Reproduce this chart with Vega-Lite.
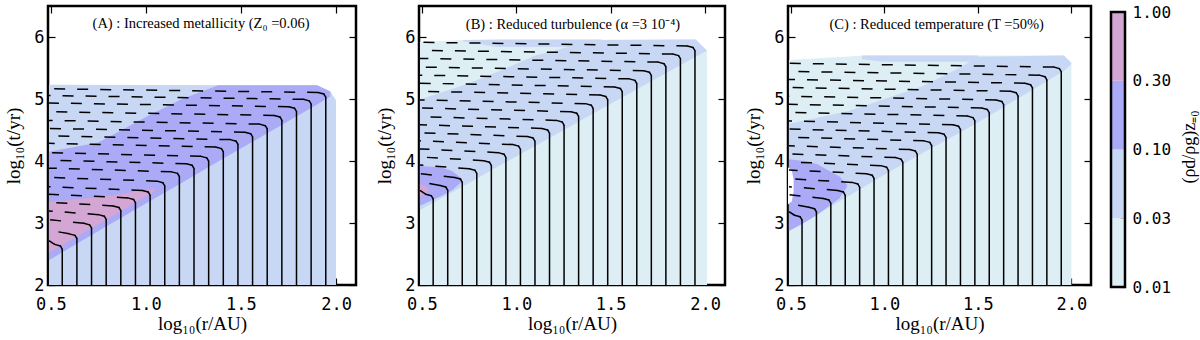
{
  "$schema": "https://vega.github.io/schema/vega-lite/v6.json",
  "background": "white",
  "padding": {"left": 3, "top": 4, "right": 2, "bottom": 0},
  "spacing": 16,
  "datasets": {
    "reg": [
      {"r":"A1","b":"b2","x":0.49,"lo":2,"hi":5.23},{"r":"A1","b":"b2","x":1.9,"lo":2,"hi":5.22},{"r":"A1","b":"b2","x":1.97,"lo":2,"hi":5.12},{"r":"A1","b":"b2","x":2.0,"lo":2,"hi":4.98},
      {"r":"A2","b":"b3","x":0.49,"lo":2.4,"hi":4.15},{"r":"A2","b":"b3","x":0.75,"lo":2.87,"hi":4.3},{"r":"A2","b":"b3","x":1.02,"lo":3.35,"hi":4.74},{"r":"A2","b":"b3","x":1.19,"lo":3.65,"hi":5.0},{"r":"A2","b":"b3","x":1.38,"lo":3.99,"hi":5.22},{"r":"A2","b":"b3","x":1.9,"lo":4.91,"hi":5.22},{"r":"A2","b":"b3","x":1.97,"lo":5.04,"hi":5.12},
      {"r":"A3","b":"b4","x":0.49,"lo":2.52,"hi":3.34},{"r":"A3","b":"b4","x":0.8,"lo":3.07,"hi":3.43},{"r":"A3","b":"b4","x":1.05,"lo":3.52,"hi":3.56},
      {"r":"B1","b":"b1","x":0.49,"lo":2,"hi":5.92},{"r":"B1","b":"b1","x":0.72,"lo":2,"hi":5.95},{"r":"B1","b":"b1","x":1.95,"lo":2,"hi":5.96},{"r":"B1","b":"b1","x":2.01,"lo":2,"hi":5.78},
      {"r":"B2","b":"b2","x":0.49,"lo":3.21,"hi":4.99},{"r":"B2","b":"b2","x":0.74,"lo":3.63,"hi":5.24},{"r":"B2","b":"b2","x":0.95,"lo":3.99,"hi":5.5},{"r":"B2","b":"b2","x":1.1,"lo":4.24,"hi":5.7},{"r":"B2","b":"b2","x":1.3,"lo":4.58,"hi":5.86},{"r":"B2","b":"b2","x":1.45,"lo":4.84,"hi":5.95},{"r":"B2","b":"b2","x":1.95,"lo":5.68,"hi":5.96},{"r":"B2","b":"b2","x":2.01,"lo":5.78,"hi":5.78},
      {"r":"B3","b":"b2","x":0.72,"lo":5.93,"hi":5.95},{"r":"B3","b":"b2","x":0.9,"lo":5.84,"hi":5.96},{"r":"B3","b":"b2","x":1.45,"lo":5.84,"hi":5.96},
      {"r":"B4","b":"b3","x":0.49,"lo":3.28,"hi":3.92},{"r":"B4","b":"b3","x":0.6,"lo":3.43,"hi":3.9},{"r":"B4","b":"b3","x":0.66,"lo":3.53,"hi":3.84},{"r":"B4","b":"b3","x":0.71,"lo":3.66,"hi":3.72},
      {"r":"B5","b":"b4","x":0.49,"lo":3.42,"hi":3.64},{"r":"B5","b":"b4","x":0.52,"lo":3.48,"hi":3.6},{"r":"B5","b":"b4","x":0.535,"lo":3.53,"hi":3.55},
      {"r":"C1","b":"b1","x":0.49,"lo":2,"hi":5.63},{"r":"C1","b":"b1","x":0.9,"lo":2,"hi":5.7},{"r":"C1","b":"b1","x":1.96,"lo":2,"hi":5.7},{"r":"C1","b":"b1","x":2.0,"lo":2,"hi":5.58},
      {"r":"C2","b":"b2","x":0.49,"lo":2.88,"hi":4.6},{"r":"C2","b":"b2","x":0.8,"lo":3.42,"hi":4.8},{"r":"C2","b":"b2","x":1.0,"lo":3.78,"hi":5.0},{"r":"C2","b":"b2","x":1.2,"lo":4.12,"hi":5.2},{"r":"C2","b":"b2","x":1.4,"lo":4.45,"hi":5.5},{"r":"C2","b":"b2","x":1.5,"lo":4.62,"hi":5.68},{"r":"C2","b":"b2","x":1.96,"lo":5.45,"hi":5.7},{"r":"C2","b":"b2","x":2.0,"lo":5.56,"hi":5.58},
      {"r":"C3","b":"b2","x":0.88,"lo":5.64,"hi":5.7},{"r":"C3","b":"b2","x":1.0,"lo":5.6,"hi":5.7},{"r":"C3","b":"b2","x":1.5,"lo":5.6,"hi":5.7},
      {"r":"C4","b":"b3","x":0.49,"lo":2.87,"hi":4.03},{"r":"C4","b":"b3","x":0.57,"lo":3.0,"hi":4.0},{"r":"C4","b":"b3","x":0.64,"lo":3.13,"hi":3.95},{"r":"C4","b":"b3","x":0.73,"lo":3.33,"hi":3.8},{"r":"C4","b":"b3","x":0.76,"lo":3.4,"hi":3.75},{"r":"C4","b":"b3","x":0.8,"lo":3.58,"hi":3.62},
      {"r":"C5","b":"w","x":0.485,"lo":3.3,"hi":3.9},{"r":"C5","b":"w","x":0.505,"lo":3.35,"hi":3.85},{"r":"C5","b":"w","x":0.515,"lo":3.5,"hi":3.7}
    ],
    "traj": [
      {"p":"A","x":0.56,"t":2.58,"xm":0.55,"tm":2.63,"xe":0.52,"te":2.655,"tl":2.715},
      {"p":"A","x":0.637,"t":2.75,"xm":0.627,"tm":2.8,"xe":0.597,"te":2.825,"tl":2.885},
      {"p":"A","x":0.714,"t":2.92,"xm":0.704,"tm":2.97,"xe":0.674,"te":2.995,"tl":3.055},
      {"p":"A","x":0.791,"t":3.06,"xm":0.781,"tm":3.11,"xe":0.751,"te":3.135,"tl":3.195},
      {"p":"A","x":0.868,"t":3.2,"xm":0.858,"tm":3.25,"xe":0.828,"te":3.275,"tl":3.335},
      {"p":"A","x":0.945,"t":3.33,"xm":0.935,"tm":3.38,"xe":0.905,"te":3.405,"tl":3.465},
      {"p":"A","x":1.022,"t":3.45,"xm":1.012,"tm":3.5,"xe":0.982,"te":3.525,"tl":3.585},
      {"p":"A","x":1.099,"t":3.6,"xm":1.089,"tm":3.65,"xe":1.059,"te":3.675,"tl":3.735},
      {"p":"A","x":1.176,"t":3.75,"xm":1.166,"tm":3.8,"xe":1.136,"te":3.825,"tl":3.885},
      {"p":"A","x":1.253,"t":3.88,"xm":1.243,"tm":3.93,"xe":1.213,"te":3.955,"tl":4.015},
      {"p":"A","x":1.33,"t":4.0,"xm":1.32,"tm":4.05,"xe":1.29,"te":4.075,"tl":4.135},
      {"p":"A","x":1.407,"t":4.15,"xm":1.397,"tm":4.2,"xe":1.367,"te":4.225,"tl":4.285},
      {"p":"A","x":1.484,"t":4.27,"xm":1.474,"tm":4.32,"xe":1.444,"te":4.345,"tl":4.405},
      {"p":"A","x":1.561,"t":4.39,"xm":1.551,"tm":4.44,"xe":1.521,"te":4.465,"tl":4.525},
      {"p":"A","x":1.638,"t":4.52,"xm":1.628,"tm":4.57,"xe":1.598,"te":4.595,"tl":4.655},
      {"p":"A","x":1.715,"t":4.66,"xm":1.705,"tm":4.71,"xe":1.675,"te":4.735,"tl":4.795},
      {"p":"A","x":1.792,"t":4.8,"xm":1.782,"tm":4.85,"xe":1.752,"te":4.875,"tl":4.935},
      {"p":"A","x":1.869,"t":4.92,"xm":1.859,"tm":4.97,"xe":1.829,"te":4.995,"tl":5.055},
      {"p":"A","x":1.946,"t":5.03,"xm":1.936,"tm":5.08,"xe":1.906,"te":5.105,"tl":5.165},
      {"p":"B","x":0.56,"t":3.39,"xm":0.55,"tm":3.44,"xe":0.52,"te":3.465,"tl":3.525},
      {"p":"B","x":0.637,"t":3.53,"xm":0.627,"tm":3.58,"xe":0.597,"te":3.605,"tl":3.665},
      {"p":"B","x":0.714,"t":3.66,"xm":0.704,"tm":3.71,"xe":0.674,"te":3.735,"tl":3.795},
      {"p":"B","x":0.791,"t":3.8,"xm":0.781,"tm":3.85,"xe":0.751,"te":3.875,"tl":3.935},
      {"p":"B","x":0.868,"t":3.93,"xm":0.858,"tm":3.98,"xe":0.828,"te":4.005,"tl":4.065},
      {"p":"B","x":0.945,"t":4.06,"xm":0.935,"tm":4.11,"xe":0.905,"te":4.135,"tl":4.195},
      {"p":"B","x":1.022,"t":4.19,"xm":1.012,"tm":4.24,"xe":0.982,"te":4.265,"tl":4.325},
      {"p":"B","x":1.099,"t":4.32,"xm":1.089,"tm":4.37,"xe":1.059,"te":4.395,"tl":4.455},
      {"p":"B","x":1.176,"t":4.45,"xm":1.166,"tm":4.5,"xe":1.136,"te":4.525,"tl":4.585},
      {"p":"B","x":1.253,"t":4.58,"xm":1.243,"tm":4.63,"xe":1.213,"te":4.655,"tl":4.715},
      {"p":"B","x":1.33,"t":4.72,"xm":1.32,"tm":4.77,"xe":1.29,"te":4.795,"tl":4.855},
      {"p":"B","x":1.407,"t":4.85,"xm":1.397,"tm":4.9,"xe":1.367,"te":4.925,"tl":4.985},
      {"p":"B","x":1.484,"t":4.99,"xm":1.474,"tm":5.04,"xe":1.444,"te":5.065,"tl":5.125},
      {"p":"B","x":1.561,"t":5.12,"xm":1.551,"tm":5.17,"xe":1.521,"te":5.195,"tl":5.255},
      {"p":"B","x":1.638,"t":5.25,"xm":1.628,"tm":5.3,"xe":1.598,"te":5.325,"tl":5.385},
      {"p":"B","x":1.715,"t":5.38,"xm":1.705,"tm":5.43,"xe":1.675,"te":5.455,"tl":5.515},
      {"p":"B","x":1.792,"t":5.52,"xm":1.782,"tm":5.57,"xe":1.752,"te":5.595,"tl":5.655},
      {"p":"B","x":1.869,"t":5.65,"xm":1.859,"tm":5.7,"xe":1.829,"te":5.725,"tl":5.785},
      {"p":"B","x":1.946,"t":5.78,"xm":1.936,"tm":5.83,"xe":1.906,"te":5.855,"tl":5.915},
      {"p":"C","x":0.56,"t":3.05,"xm":0.55,"tm":3.1,"xe":0.52,"te":3.125,"tl":3.185},
      {"p":"C","x":0.637,"t":3.18,"xm":0.627,"tm":3.23,"xe":0.597,"te":3.255,"tl":3.315},
      {"p":"C","x":0.714,"t":3.32,"xm":0.704,"tm":3.37,"xe":0.674,"te":3.395,"tl":3.455},
      {"p":"C","x":0.791,"t":3.45,"xm":0.781,"tm":3.5,"xe":0.751,"te":3.525,"tl":3.585},
      {"p":"C","x":0.868,"t":3.58,"xm":0.858,"tm":3.63,"xe":0.828,"te":3.655,"tl":3.715},
      {"p":"C","x":0.945,"t":3.72,"xm":0.935,"tm":3.77,"xe":0.905,"te":3.795,"tl":3.855},
      {"p":"C","x":1.022,"t":3.85,"xm":1.012,"tm":3.9,"xe":0.982,"te":3.925,"tl":3.985},
      {"p":"C","x":1.099,"t":3.98,"xm":1.089,"tm":4.03,"xe":1.059,"te":4.055,"tl":4.115},
      {"p":"C","x":1.176,"t":4.11,"xm":1.166,"tm":4.16,"xe":1.136,"te":4.185,"tl":4.245},
      {"p":"C","x":1.253,"t":4.25,"xm":1.243,"tm":4.3,"xe":1.213,"te":4.325,"tl":4.385},
      {"p":"C","x":1.33,"t":4.38,"xm":1.32,"tm":4.43,"xe":1.29,"te":4.455,"tl":4.515},
      {"p":"C","x":1.407,"t":4.51,"xm":1.397,"tm":4.56,"xe":1.367,"te":4.585,"tl":4.645},
      {"p":"C","x":1.484,"t":4.65,"xm":1.474,"tm":4.7,"xe":1.444,"te":4.725,"tl":4.785},
      {"p":"C","x":1.561,"t":4.78,"xm":1.551,"tm":4.83,"xe":1.521,"te":4.855,"tl":4.915},
      {"p":"C","x":1.638,"t":4.91,"xm":1.628,"tm":4.96,"xe":1.598,"te":4.985,"tl":5.045},
      {"p":"C","x":1.715,"t":5.05,"xm":1.705,"tm":5.1,"xe":1.675,"te":5.125,"tl":5.185},
      {"p":"C","x":1.792,"t":5.18,"xm":1.782,"tm":5.23,"xe":1.752,"te":5.255,"tl":5.315},
      {"p":"C","x":1.869,"t":5.31,"xm":1.859,"tm":5.36,"xe":1.829,"te":5.385,"tl":5.445},
      {"p":"C","x":1.946,"t":5.44,"xm":1.936,"tm":5.49,"xe":1.906,"te":5.515,"tl":5.575}
    ],
    "lab": [
      {"p":"A","x":1.29,"y":6.21,"s":"(A) : Increased metallicity (Z₀ =0.06)"},
      {"p":"B","x":1.3,"y":6.19,"s":"(B) : Reduced turbulence (α =3 10⁻⁴)"},
      {"p":"C","x":1.28,"y":6.2,"s":"(C) : Reduced temperature (T =50%)"}
    ],
    "cb": [
      {"lo":0,"hi":1,"b":"b1"},{"lo":1,"hi":2,"b":"b2"},{"lo":2,"hi":3,"b":"b3"},{"lo":3,"hi":4,"b":"b4"}
    ]
  },
  "resolve": {"scale": {"x": "independent", "y": "independent", "color": "shared"}},
  "hconcat": [
    {
      "width": 308, "height": 279,
      "resolve": {"axis": {"x": "independent", "y": "independent"}},
      "layer": [
        {"data":{"name":"reg"},"transform":[{"filter":"datum.r=='A1'"}],"mark":"area",
         "encoding":{
           "x":{"field":"x","type":"quantitative","scale":{"domain":[0.485,2.105],"nice":false,"zero":false},"axis":{"values":[0.5,1.0,1.5,2.0],"format":".1f","title":"log₁₀(r/AU)"}},
           "y":{"field":"lo","type":"quantitative","stack":null,"scale":{"domain":[2,6.5],"nice":false,"zero":false},"axis":{"values":[2,3,4,5,6],"format":"d","title":"log₁₀(t/yr)"}},
           "y2":{"field":"hi"},
           "color":{"field":"b","type":"nominal","scale":{"domain":["b1","b2","b3","b4","w"],"range":["#ddeef4","#c8d8f4","#aaaaf6","#d4a6d4","#ffffff"]},"legend":null}}},
        {"data":{"name":"reg"},"transform":[{"filter":"datum.r=='A2'"}],"mark":"area","encoding":{"x":{"field":"x","type":"quantitative","axis":null},"y":{"field":"lo","type":"quantitative","stack":null,"axis":null},"y2":{"field":"hi"},"color":{"field":"b","type":"nominal","legend":null}}},
        {"data":{"name":"reg"},"transform":[{"filter":"datum.r=='A3'"}],"mark":"area","encoding":{"x":{"field":"x","type":"quantitative","axis":null},"y":{"field":"lo","type":"quantitative","stack":null,"axis":null},"y2":{"field":"hi"},"color":{"field":"b","type":"nominal","legend":null}}},
        {"data":{"name":"traj"},"transform":[{"filter":"datum.p=='A'"}],"mark":{"type":"rule","color":"black","strokeWidth":1.5},"encoding":{"x":{"field":"x","type":"quantitative","axis":null},"y":{"field":"t","type":"quantitative","axis":null},"y2":{"datum":2}}},
        {"data":{"name":"traj"},"transform":[{"filter":"datum.p=='A'"}],"mark":{"type":"rule","color":"black","strokeWidth":1.5,"strokeCap":"round"},"encoding":{"x":{"field":"x","type":"quantitative","axis":null},"y":{"field":"t","type":"quantitative","axis":null},"x2":{"field":"xm"},"y2":{"field":"tm"}}},
        {"data":{"name":"traj"},"transform":[{"filter":"datum.p=='A'"}],"mark":{"type":"rule","color":"black","strokeWidth":1.5,"strokeCap":"round"},"encoding":{"x":{"field":"xm","type":"quantitative","axis":null},"y":{"field":"tm","type":"quantitative","axis":null},"x2":{"field":"xe"},"y2":{"field":"te"}}},
        {"data":{"name":"traj"},"transform":[{"filter":"datum.p=='A'"}],"mark":{"type":"rule","color":"black","strokeWidth":1.5,"strokeDash":[11,12]},"encoding":{"x":{"field":"xe","type":"quantitative","axis":null},"y":{"field":"te","type":"quantitative","axis":null},"x2":{"datum":0.49},"y2":{"field":"tl"}}},
        {"data":{"name":"lab"},"transform":[{"filter":"datum.p=='A'"}],"mark":{"type":"text","font":"Liberation Serif","fontSize":14.5,"color":"black"},"encoding":{"x":{"field":"x","type":"quantitative","axis":{"orient":"top","values":[0.5,1.0,1.5,2.0],"labels":false,"title":null}},"y":{"field":"y","type":"quantitative","axis":{"orient":"right","values":[2,3,4,5,6],"labels":false,"title":null}},"text":{"field":"s","type":"nominal"}}}
      ]
    },
    {
      "width": 306, "height": 279,
      "resolve": {"axis": {"x": "independent", "y": "independent"}},
      "layer": [
        {"data":{"name":"reg"},"transform":[{"filter":"datum.r=='B1'"}],"mark":"area",
         "encoding":{
           "x":{"field":"x","type":"quantitative","scale":{"domain":[0.485,2.105],"nice":false,"zero":false},"axis":{"values":[0.5,1.0,1.5,2.0],"format":".1f","title":"log₁₀(r/AU)"}},
           "y":{"field":"lo","type":"quantitative","stack":null,"scale":{"domain":[2,6.5],"nice":false,"zero":false},"axis":{"values":[2,3,4,5,6],"format":"d","title":"log₁₀(t/yr)"}},
           "y2":{"field":"hi"},
           "color":{"field":"b","type":"nominal","legend":null}}},
        {"data":{"name":"reg"},"transform":[{"filter":"datum.r=='B2'"}],"mark":"area","encoding":{"x":{"field":"x","type":"quantitative","axis":null},"y":{"field":"lo","type":"quantitative","stack":null,"axis":null},"y2":{"field":"hi"},"color":{"field":"b","type":"nominal","legend":null}}},
        {"data":{"name":"reg"},"transform":[{"filter":"datum.r=='B3'"}],"mark":"area","encoding":{"x":{"field":"x","type":"quantitative","axis":null},"y":{"field":"lo","type":"quantitative","stack":null,"axis":null},"y2":{"field":"hi"},"color":{"field":"b","type":"nominal","legend":null}}},
        {"data":{"name":"reg"},"transform":[{"filter":"datum.r=='B4'"}],"mark":"area","encoding":{"x":{"field":"x","type":"quantitative","axis":null},"y":{"field":"lo","type":"quantitative","stack":null,"axis":null},"y2":{"field":"hi"},"color":{"field":"b","type":"nominal","legend":null}}},
        {"data":{"name":"reg"},"transform":[{"filter":"datum.r=='B5'"}],"mark":"area","encoding":{"x":{"field":"x","type":"quantitative","axis":null},"y":{"field":"lo","type":"quantitative","stack":null,"axis":null},"y2":{"field":"hi"},"color":{"field":"b","type":"nominal","legend":null}}},
        {"data":{"name":"traj"},"transform":[{"filter":"datum.p=='B'"}],"mark":{"type":"rule","color":"black","strokeWidth":1.5},"encoding":{"x":{"field":"x","type":"quantitative","axis":null},"y":{"field":"t","type":"quantitative","axis":null},"y2":{"datum":2}}},
        {"data":{"name":"traj"},"transform":[{"filter":"datum.p=='B'"}],"mark":{"type":"rule","color":"black","strokeWidth":1.5,"strokeCap":"round"},"encoding":{"x":{"field":"x","type":"quantitative","axis":null},"y":{"field":"t","type":"quantitative","axis":null},"x2":{"field":"xm"},"y2":{"field":"tm"}}},
        {"data":{"name":"traj"},"transform":[{"filter":"datum.p=='B'"}],"mark":{"type":"rule","color":"black","strokeWidth":1.5,"strokeCap":"round"},"encoding":{"x":{"field":"xm","type":"quantitative","axis":null},"y":{"field":"tm","type":"quantitative","axis":null},"x2":{"field":"xe"},"y2":{"field":"te"}}},
        {"data":{"name":"traj"},"transform":[{"filter":"datum.p=='B'"}],"mark":{"type":"rule","color":"black","strokeWidth":1.5,"strokeDash":[11,12]},"encoding":{"x":{"field":"xe","type":"quantitative","axis":null},"y":{"field":"te","type":"quantitative","axis":null},"x2":{"datum":0.49},"y2":{"field":"tl"}}},
        {"data":{"name":"lab"},"transform":[{"filter":"datum.p=='B'"}],"mark":{"type":"text","font":"Liberation Serif","fontSize":14.5,"color":"black"},"encoding":{"x":{"field":"x","type":"quantitative","axis":{"orient":"top","values":[0.5,1.0,1.5,2.0],"labels":false,"title":null}},"y":{"field":"y","type":"quantitative","axis":{"orient":"right","values":[2,3,4,5,6],"labels":false,"title":null}},"text":{"field":"s","type":"nominal"}}}
      ]
    },
    {
      "width": 303, "height": 279,
      "resolve": {"axis": {"x": "independent", "y": "independent"}},
      "layer": [
        {"data":{"name":"reg"},"transform":[{"filter":"datum.r=='C1'"}],"mark":"area",
         "encoding":{
           "x":{"field":"x","type":"quantitative","scale":{"domain":[0.485,2.105],"nice":false,"zero":false},"axis":{"values":[0.5,1.0,1.5,2.0],"format":".1f","title":"log₁₀(r/AU)"}},
           "y":{"field":"lo","type":"quantitative","stack":null,"scale":{"domain":[2,6.5],"nice":false,"zero":false},"axis":{"values":[2,3,4,5,6],"format":"d","title":"log₁₀(t/yr)"}},
           "y2":{"field":"hi"},
           "color":{"field":"b","type":"nominal","legend":null}}},
        {"data":{"name":"reg"},"transform":[{"filter":"datum.r=='C2'"}],"mark":"area","encoding":{"x":{"field":"x","type":"quantitative","axis":null},"y":{"field":"lo","type":"quantitative","stack":null,"axis":null},"y2":{"field":"hi"},"color":{"field":"b","type":"nominal","legend":null}}},
        {"data":{"name":"reg"},"transform":[{"filter":"datum.r=='C3'"}],"mark":"area","encoding":{"x":{"field":"x","type":"quantitative","axis":null},"y":{"field":"lo","type":"quantitative","stack":null,"axis":null},"y2":{"field":"hi"},"color":{"field":"b","type":"nominal","legend":null}}},
        {"data":{"name":"reg"},"transform":[{"filter":"datum.r=='C4'"}],"mark":"area","encoding":{"x":{"field":"x","type":"quantitative","axis":null},"y":{"field":"lo","type":"quantitative","stack":null,"axis":null},"y2":{"field":"hi"},"color":{"field":"b","type":"nominal","legend":null}}},
        {"data":{"name":"reg"},"transform":[{"filter":"datum.r=='C5'"}],"mark":"area","encoding":{"x":{"field":"x","type":"quantitative","axis":null},"y":{"field":"lo","type":"quantitative","stack":null,"axis":null},"y2":{"field":"hi"},"color":{"field":"b","type":"nominal","legend":null}}},
        {"data":{"name":"traj"},"transform":[{"filter":"datum.p=='C'"}],"mark":{"type":"rule","color":"black","strokeWidth":1.5},"encoding":{"x":{"field":"x","type":"quantitative","axis":null},"y":{"field":"t","type":"quantitative","axis":null},"y2":{"datum":2}}},
        {"data":{"name":"traj"},"transform":[{"filter":"datum.p=='C'"}],"mark":{"type":"rule","color":"black","strokeWidth":1.5,"strokeCap":"round"},"encoding":{"x":{"field":"x","type":"quantitative","axis":null},"y":{"field":"t","type":"quantitative","axis":null},"x2":{"field":"xm"},"y2":{"field":"tm"}}},
        {"data":{"name":"traj"},"transform":[{"filter":"datum.p=='C'"}],"mark":{"type":"rule","color":"black","strokeWidth":1.5,"strokeCap":"round"},"encoding":{"x":{"field":"xm","type":"quantitative","axis":null},"y":{"field":"tm","type":"quantitative","axis":null},"x2":{"field":"xe"},"y2":{"field":"te"}}},
        {"data":{"name":"traj"},"transform":[{"filter":"datum.p=='C'"}],"mark":{"type":"rule","color":"black","strokeWidth":1.5,"strokeDash":[11,12]},"encoding":{"x":{"field":"xe","type":"quantitative","axis":null},"y":{"field":"te","type":"quantitative","axis":null},"x2":{"datum":0.49},"y2":{"field":"tl"}}},
        {"data":{"name":"lab"},"transform":[{"filter":"datum.p=='C'"}],"mark":{"type":"text","font":"Liberation Serif","fontSize":14.5,"color":"black"},"encoding":{"x":{"field":"x","type":"quantitative","axis":{"orient":"top","values":[0.5,1.0,1.5,2.0],"labels":false,"title":null}},"y":{"field":"y","type":"quantitative","axis":{"orient":"right","values":[2,3,4,5,6],"labels":false,"title":null}},"text":{"field":"s","type":"nominal"}}}
      ]
    },
    {
      "width": 14, "height": 281,
      "view": {"stroke": null},
      "data": {"name": "cb"},
      "layer": [
        {"mark":"rect","encoding":{
          "y":{"field":"lo","type":"quantitative","scale":{"domain":[0,4.088],"nice":false,"zero":false},
               "axis":{"orient":"right","values":[0,1,2,3,4],"labelExpr":"['0.01','0.03','0.10','0.30','1.00'][datum.value]","tickSize":-5,"labelFontSize":16,"labelPadding":12,"title":"(ρd/ρg)z₌₀","titleAngle":270,"titleBaseline":"top","titlePadding":10,"titleFontSize":18}},
          "y2":{"field":"hi"},
          "color":{"field":"b","type":"nominal","legend":null}}},
        {"mark":{"type":"rect","fill":"transparent","stroke":"black","strokeWidth":2.5},"encoding":{"y":{"field":"lo","aggregate":"min","type":"quantitative"},"y2":{"field":"hi","aggregate":"max"}}}
      ]
    }
  ],
  "config": {
    "view": {"stroke": "black", "strokeWidth": 2.5},
    "axis": {"grid": false, "domain": false, "tickColor": "black", "tickSize": -7, "tickWidth": 1.2,
             "labelFont": "DejaVu Sans Mono", "labelFontSize": 17, "labelColor": "black", "labelFlush": false, "labelOverlap": false,
             "titleFont": "Liberation Serif", "titleFontSize": 19, "titleFontWeight": "normal", "titleColor": "black"},
    "axisX": {"labelPadding": 18, "titlePadding": 2},
    "axisY": {"labelPadding": 11, "titlePadding": 10}
  }
}
